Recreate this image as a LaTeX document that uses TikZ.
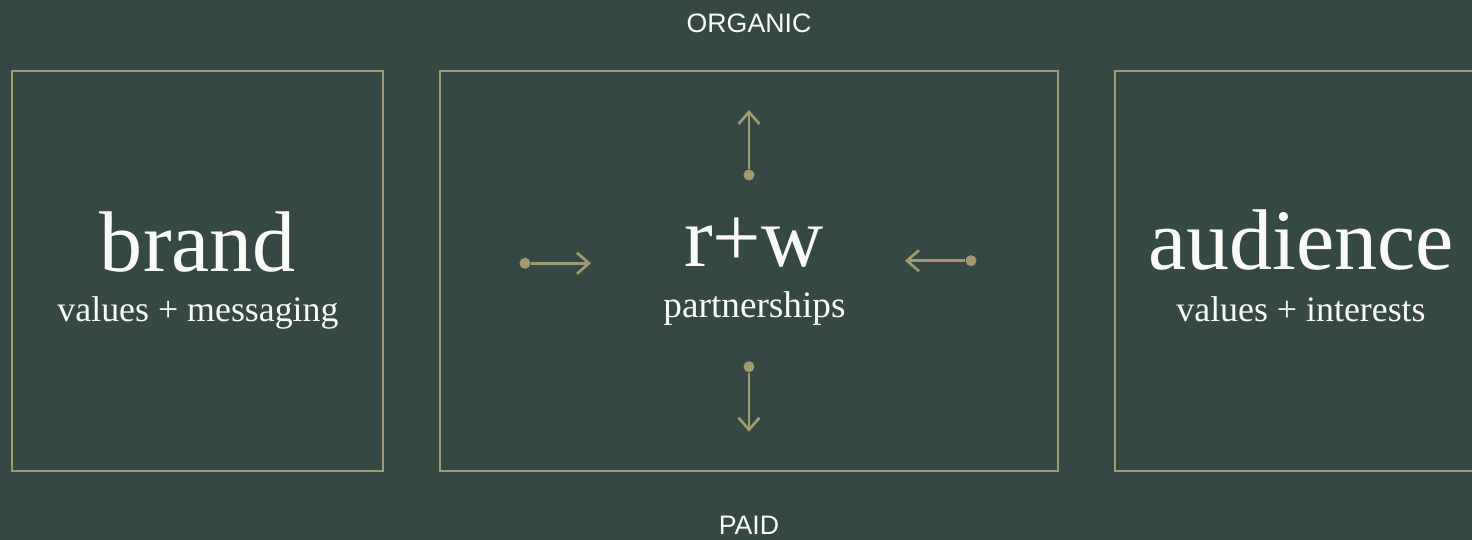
\documentclass[tikz,border=0pt]{standalone}
\usepackage{fontspec}
\setmainfont{Liberation Serif}
\newfontfamily\labelfont{Liberation Sans}
\usepackage{xcolor}
\usetikzlibrary{arrows.meta}
\definecolor{bg}{RGB}{53, 72, 67}
\definecolor{gold}{RGB}{161, 155, 111}
\definecolor{ink}{RGB}{250, 250, 246}

\tikzset{
  panel/.style={draw=gold, line width=0.75pt, inner sep=0pt},
  dot/.style={circle, fill=gold, inner sep=0pt, minimum size=0.11cm},
  flow/.style={draw=gold, line width=0.75pt, -{Straight Barb[length=1.2mm, width=2.1mm]}},
  big/.style={text=ink, anchor=base, font=\fontsize{24.5}{30}\selectfont},
  small/.style={text=ink, anchor=base, font=\fontsize{10.2}{12}\selectfont},
  side/.style={text=ink, anchor=base, font=\labelfont\fontsize{7.6}{9}\selectfont}
}

\begin{document}
\begin{tikzpicture}
      \useasboundingbox (0, 0) rectangle (14.72, 5.4);
      \fill[bg] (0, 0) rectangle (14.72, 5.4);
      \clip (0, 0) rectangle (14.72, 5.4);
      % three panels
      \node[panel, minimum width=3.71cm, minimum height=4cm] (brand) at (1.975, 2.69) {};
      \node[panel, minimum width=6.18cm, minimum height=4cm] (rw) at (7.49, 2.69) {};
      \node[panel, minimum width=3.71cm, minimum height=4cm] (aud) at (13.005, 2.69) {};
      % titles
      \node[big] (brandT) at (1.98, 2.68) {brand};
      \node[small] (brandS) at (1.98, 2.18) {values + messaging};
      \node[big] (rwT) at (7.54, 2.73) {r+w};
      \node[small, font=\fontsize{10.6}{12}\selectfont] (rwS) at (7.545, 2.22) {partnerships};
      \node[big] (audT) at (13.01, 2.70) {audience};
      \node[small] (audS) at (13.01, 2.18) {values + interests};
      \node[side] (org) at (7.49, 5.07) {ORGANIC};
      \node[side] (paid) at (7.49, 0.05) {PAID};
      % arrows round the middle
      \node[dot] (upS) at (7.49, 3.65) {};
      \coordinate (upE) at (7.49, 4.30);
      \node[dot] (dnS) at (7.49, 1.733) {};
      \coordinate (dnE) at (7.49, 1.083);
      \node[dot] (lfS) at (5.25, 2.767) {};
      \coordinate (lfE) at (5.91, 2.767);
      \node[dot] (rtS) at (9.71, 2.793) {};
      \coordinate (rtE) at (9.05, 2.793);
      \draw[flow] (upS) -- (upE);
      \draw[flow] (dnS) -- (dnE);
      \draw[flow] (lfS) -- (lfE);
      \draw[flow] (rtS) -- (rtE);
\end{tikzpicture}
\end{document}
